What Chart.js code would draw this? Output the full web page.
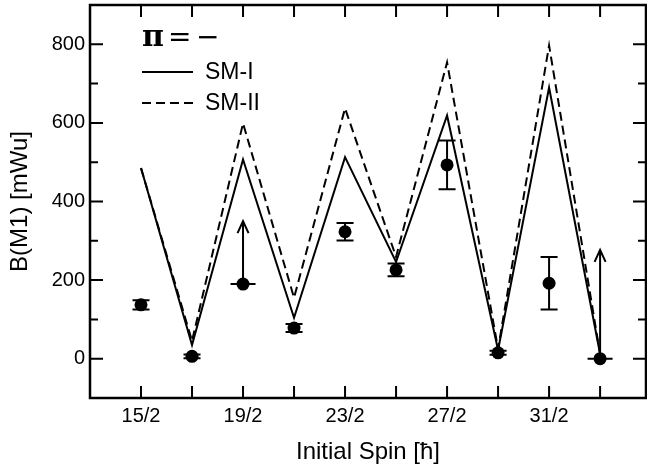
<!DOCTYPE html>
<html>
<head>
<meta charset="utf-8">
<script src="https://cdn.jsdelivr.net/npm/chart.js@4/dist/chart.umd.min.js"></script>
<style>
  html, body { margin: 0; padding: 0; background: #fff; }
  #wrap { width: 647px; height: 472px; }
</style>
</head>
<body>
<div id="wrap"><canvas id="b1" width="647" height="472"></canvas></div>
<script>
// initial spin of each level (in units of hbar)
const spins = [7.5, 8.5, 9.5, 10.5, 11.5, 12.5, 13.5, 14.5, 15.5, 16.5];
const labelledSpins = [7.5, 9.5, 11.5, 13.5, 15.5];
const xTickLabels = ['15/2', '19/2', '23/2', '27/2', '31/2'];
const yTicks = [0, 200, 400, 600, 800];
const yMinorTicks = [100, 300, 500, 700];

// shell model B(M1) values, mWu
const smI  = [485, 35, 507, 104, 513, 246, 619, 22, 690, 12];
const smII = [485, 45, 599, 155, 637, 259, 754, 25, 797, 12];

// measured values; error = symmetric bar, limitTo = arrow tip for lower limits
const expValue = [137, 6, 190, 78, 323, 226, 493, 15, 192, 0];
const expError = [12, 5, null, 10, 22, 16, 62, 5, 67, null];
const limitTo  = [null, null, 350, null, null, null, null, null, null, 277];

const FONT = "'Liberation Sans', Arial, Helvetica, sans-serif";

const pts = arr => spins.map((x, i) => ({ x: x, y: arr[i] }));

// error bars and lower-limit arrows
const errorBars = {
  id: 'errorBars',
  afterDatasetsDraw(chart) {
    const { ctx, scales: { x, y } } = chart;
    ctx.save();
    ctx.strokeStyle = '#000';
    ctx.lineWidth = 2;
    spins.forEach((s, i) => {
      const px = x.getPixelForValue(s);
      if (expError[i] != null) {
        const top = y.getPixelForValue(expValue[i] + expError[i]);
        const bot = y.getPixelForValue(expValue[i] - expError[i]);
        ctx.beginPath();
        ctx.moveTo(px, top); ctx.lineTo(px, bot);
        ctx.moveTo(px - 8.5, top); ctx.lineTo(px + 8.5, top);
        ctx.moveTo(px - 8.5, bot); ctx.lineTo(px + 8.5, bot);
        ctx.stroke();
      }
      if (limitTo[i] != null) {
        const py = y.getPixelForValue(expValue[i]);
        const tip = y.getPixelForValue(limitTo[i]);
        ctx.beginPath();
        ctx.moveTo(px - 12.5, py); ctx.lineTo(px + 12.5, py);
        ctx.moveTo(px, py); ctx.lineTo(px, tip);
        ctx.moveTo(px - 5.5, tip + 12); ctx.lineTo(px, tip); ctx.lineTo(px + 5.5, tip + 12);
        ctx.stroke();
      }
    });
    ctx.restore();
  }
};

// box frame with inward ticks on all four sides
const frame = {
  id: 'frame',
  afterDraw(chart) {
    const { ctx, chartArea: a, scales: { x, y } } = chart;
    ctx.save();
    ctx.strokeStyle = '#000';
    ctx.lineWidth = 2.5;
    ctx.strokeRect(a.left, a.top, a.right - a.left, a.bottom - a.top);
    ctx.lineWidth = 2;
    ctx.beginPath();
    spins.forEach(s => {
      const px = x.getPixelForValue(s);
      ctx.moveTo(px, a.bottom); ctx.lineTo(px, a.bottom - 12);
      ctx.moveTo(px, a.top); ctx.lineTo(px, a.top + 12);
    });
    yTicks.forEach(v => {
      const py = y.getPixelForValue(v);
      ctx.moveTo(a.left, py); ctx.lineTo(a.left + 13, py);
      ctx.moveTo(a.right, py); ctx.lineTo(a.right - 13, py);
    });
    yMinorTicks.forEach(v => {
      const py = y.getPixelForValue(v);
      ctx.moveTo(a.left, py); ctx.lineTo(a.left + 8, py);
      ctx.moveTo(a.right, py); ctx.lineTo(a.right - 8, py);
    });
    ctx.stroke();
    ctx.restore();
  }
};

// legend block: parity label and the two line styles
const legendBox = {
  id: 'legendBox',
  afterDraw(chart) {
    const { ctx } = chart;
    ctx.save();
    ctx.fillStyle = '#000';
    ctx.strokeStyle = '#000';
    ctx.textBaseline = 'middle';
    ctx.font = "bold 30px 'DejaVu Serif', 'Liberation Serif', serif";
    ctx.fillText('\u03c0', 142, 38);
    ctx.font = "28px 'DejaVu Sans', sans-serif";
    ctx.fillText('=', 168, 39);
    ctx.fillText('\u2212', 196, 39);
    ctx.lineWidth = 2;
    ctx.beginPath();
    ctx.moveTo(142, 72); ctx.lineTo(193, 72);
    ctx.stroke();
    ctx.setLineDash([9, 5]);
    ctx.beginPath();
    ctx.moveTo(142, 103); ctx.lineTo(193, 103);
    ctx.stroke();
    ctx.setLineDash([]);
    ctx.font = '23px ' + FONT;
    ctx.fillText('SM-I', 205, 73);
    ctx.fillText('SM-II', 205, 104);
    ctx.restore();
  }
};

new Chart(document.getElementById('b1').getContext('2d'), {
  type: 'scatter',
  data: {
    datasets: [
      {
        label: 'SM-I',
        data: pts(smI),
        showLine: true,
        borderColor: '#000',
        borderWidth: 2,
        borderJoinStyle: 'miter',
        pointRadius: 0,
        order: 3
      },
      {
        label: 'SM-II',
        data: pts(smII),
        showLine: true,
        borderColor: '#000',
        borderWidth: 2,
        borderDash: [9, 5],
        borderJoinStyle: 'miter',
        pointRadius: 0,
        order: 2
      },
      {
        label: 'Experiment',
        data: pts(expValue),
        showLine: false,
        pointRadius: 6.5,
        pointBackgroundColor: '#000',
        pointBorderWidth: 0,
        order: 1
      }
    ]
  },
  options: {
    responsive: false,
    animation: false,
    layout: { autoPadding: false, padding: { top: 5, right: 1, left: 0, bottom: 0 } },
    plugins: {
      legend: { display: false },
      tooltip: { enabled: false }
    },
    scales: {
      x: {
        type: 'linear',
        min: 6.5,
        max: 17.4,
        afterBuildTicks: s => { s.ticks = spins.map(v => ({ value: v })); },
        afterFit: s => { s.height = 74; s.paddingLeft = 0; s.paddingRight = 0; },
        grid: { display: false, drawTicks: false },
        border: { display: false },
        ticks: {
          autoSkip: false,
          maxRotation: 0,
          padding: 6,
          color: '#000',
          font: { family: FONT, size: 20 },
          callback: v => {
            const k = labelledSpins.indexOf(v);
            return k < 0 ? '' : xTickLabels[k];
          }
        },
        title: {
          display: true,
          text: 'Initial Spin [\u0127]',
          color: '#000',
          font: { family: FONT, size: 24 },
          padding: { top: 0, bottom: 5 }
        }
      },
      y: {
        min: -100,
        max: 900,
        afterBuildTicks: s => { s.ticks = yTicks.map(v => ({ value: v })); },
        afterFit: s => { s.width = 90; s.paddingTop = 0; s.paddingBottom = 0; },
        grid: { display: false, drawTicks: false },
        border: { display: false },
        ticks: {
          padding: 5,
          color: '#000',
          font: { family: FONT, size: 20 }
        },
        title: {
          display: true,
          text: 'B(M1) [mWu]',
          color: '#000',
          font: { family: FONT, size: 24 },
          padding: { top: 6, bottom: 0 }
        }
      }
    }
  },
  plugins: [errorBars, frame, legendBox]
});
</script>
</body>
</html>
